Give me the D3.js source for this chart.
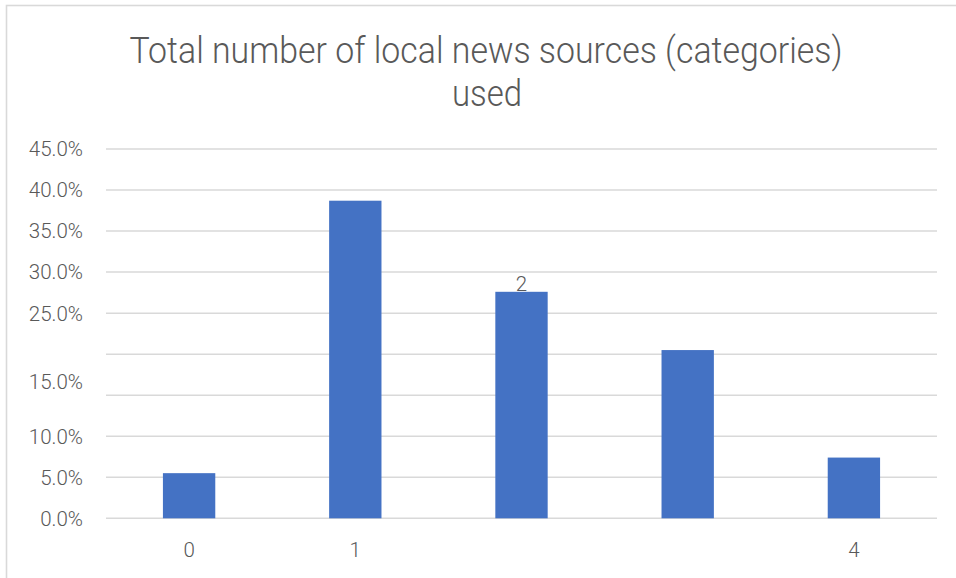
<!DOCTYPE html>
<html lang="en">
<head>
    <meta charset="UTF-8">
    <title>Total number of local news sources</title>
    <script src="https://cdnjs.cloudflare.com/ajax/libs/d3/7.8.5/d3.min.js"></script>
    <style>
        body { margin: 0; background: #fff; }
        text { font-family: Roboto, "Open Sans", sans-serif; fill: #595959; }
    </style>
</head>
<body>
    <div id="chart"></div>
    <script>
        // data (percent)
        const categories = ['0', '1', '2', '3', '4'];
        const values = [5.5, 38.7, 27.6, 20.5, 7.4];
        // category labels under the axis (only some show)
        const xLabels = ['0', '1', '', '', '4'];
        // the "2" sits on top of its bar
        const barLabels = ['', '', '2', '', ''];
        // y gridlines, and tick labels with the value where each label sits
        const gridValues = [0, 5, 10, 15, 20, 25, 30, 35, 40, 45];
        const tickLabels = ['0.0%', '5.0%', '10.0%', '15.0%', '25.0%', '30.0%', '35.0%', '40.0%', '45.0%'];
        const tickLabelAt = [0, 5, 10, 16.6, 25, 30, 35, 40, 45];

        const width = 956, height = 578;
        const plotLeft = 106, plotRight = 937, plotTop = 149, plotBottom = 518.3;

        const svg = d3.select('#chart')
            .append('svg')
            .attr('width', width)
            .attr('height', height);

        // chart border (runs off the right and bottom)
        svg.append('rect')
            .attr('x', 6.5).attr('y', 5.5)
            .attr('width', 1000).attr('height', 1000)
            .attr('fill', 'none')
            .attr('stroke', '#d9d9d9')
            .attr('stroke-width', 1.6);

        // title (squeezed to look condensed like the original)
        const title = svg.append('g').attr('class', 'title');
        title.append('text')
            .attr('x', 486).attr('y', 63)
            .attr('text-anchor', 'middle')
            .attr('font-size', 37)
            .attr('font-weight', 300)
            .attr('textLength', 713)
            .attr('lengthAdjust', 'spacingAndGlyphs')
            .text('Total number of local news sources (categories)');
        title.append('text')
            .attr('x', 487).attr('y', 106)
            .attr('text-anchor', 'middle')
            .attr('font-size', 37)
            .attr('font-weight', 300)
            .attr('textLength', 70)
            .attr('lengthAdjust', 'spacingAndGlyphs')
            .text('used');

        const x = d3.scaleBand()
            .domain(categories)
            .range([plotLeft, plotRight])
            .paddingInner(0.685)
            .paddingOuter(0.3425);

        const y = d3.scaleLinear()
            .domain([0, 45])
            .range([plotBottom, plotTop]);

        // gridlines
        svg.append('g')
            .selectAll('line')
            .data(gridValues)
            .join('line')
            .attr('x1', plotLeft).attr('x2', plotRight)
            .attr('y1', d => y(d)).attr('y2', d => y(d))
            .attr('stroke', '#d9d9d9')
            .attr('stroke-width', 1.5);

        // y tick labels
        svg.append('g')
            .selectAll('text')
            .data(tickLabels)
            .join('text')
            .attr('x', 83)
            .attr('y', (d, i) => y(tickLabelAt[i]))
            .attr('dy', '0.36em')
            .attr('text-anchor', 'end')
            .attr('font-size', 20.5)
            .attr('font-weight', 300)
            .text(d => d);

        // bars
        svg.append('g')
            .selectAll('rect')
            .data(values)
            .join('rect')
            .attr('x', (d, i) => x(categories[i]))
            .attr('y', d => y(d))
            .attr('width', x.bandwidth())
            .attr('height', d => y(0) - y(d))
            .attr('fill', '#4472c4');

        // category labels
        svg.append('g')
            .selectAll('text')
            .data(xLabels)
            .join('text')
            .attr('x', (d, i) => x(categories[i]) + x.bandwidth() / 2)
            .attr('y', 557)
            .attr('text-anchor', 'middle')
            .attr('font-size', 20.5)
            .attr('font-weight', 300)
            .text(d => d);

        // label on top of a bar
        svg.append('g')
            .selectAll('text')
            .data(barLabels)
            .join('text')
            .attr('x', (d, i) => x(categories[i]) + x.bandwidth() / 2)
            .attr('y', (d, i) => y(values[i]))
            .attr('dy', '-0.05em')
            .attr('text-anchor', 'middle')
            .attr('font-size', 20.5)
            .attr('font-weight', 300)
            .text(d => d);
    </script>
</body>
</html>
